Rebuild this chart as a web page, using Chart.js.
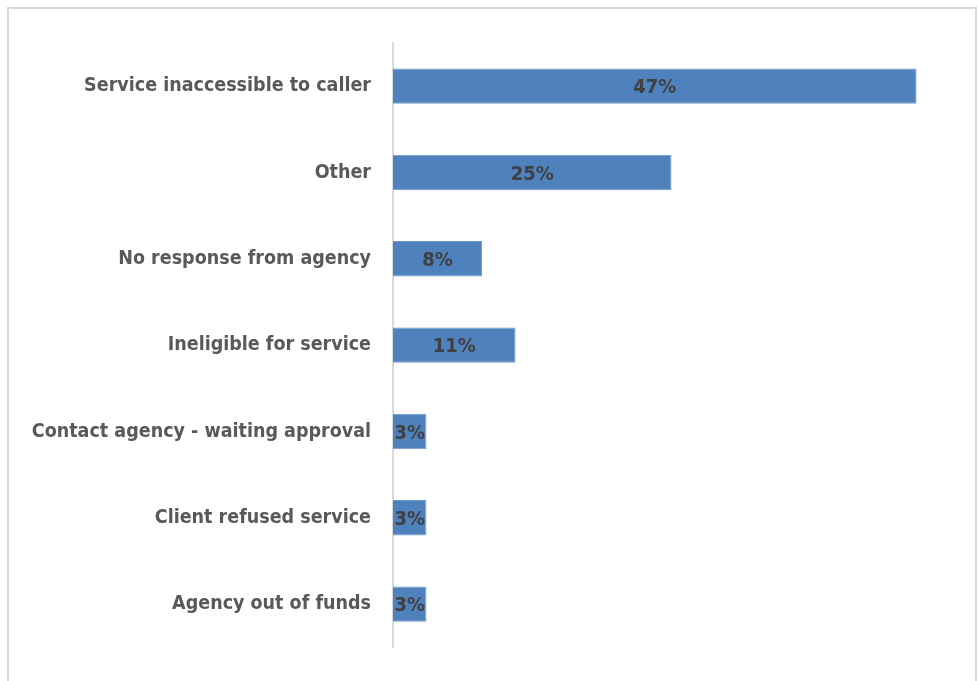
<!DOCTYPE html>
<html>
<head>
<meta charset="utf-8">
<script src="https://cdn.jsdelivr.net/npm/chart.js@4/dist/chart.umd.min.js"></script>
<style>
  html, body { margin: 0; padding: 0; background: #fff; overflow: hidden; }
  #wrap { position: relative; width: 978px; height: 681px; }
  #frame {
    position: absolute; left: 7px; top: 7px; width: 970px; height: 720px;
    border: 2px solid #d9d9d9; box-sizing: border-box;
  }
  canvas { position: absolute; left: 0; top: 0; }
</style>
</head>
<body>
<div id="wrap">
  <div id="frame"></div>
  <canvas id="reasons-chart" width="978" height="681"></canvas>
</div>
<script>
/* Reasons for unmet referrals — horizontal bars */

const REASONS = [
    "Service inaccessible to caller",
    "Other",
    "No response from agency",
    "Ineligible for service",
    "Contact agency - waiting approval",
    "Client refused service",
    "Agency out of funds",
];
const SHARES = [47, 25, 8, 11, 3, 3, 3];

const LABEL_FONT = "'Liberation Sans Narrow', 'DejaVu Sans Condensed', sans-serif";

/* value labels drawn in the middle of each bar */
const barValueLabels = {
    id: "barValueLabels",
    afterDatasetsDraw(chart) {
        const { ctx } = chart;
        const meta = chart.getDatasetMeta(0);
        ctx.save();
        ctx.font = `bold 20px ${LABEL_FONT}`;
        ctx.fillStyle = "#404040";
        ctx.textAlign = "center";
        ctx.textBaseline = "middle";
        meta.data.forEach((bar, i) => {
            const cx = (bar.x + bar.base) / 2;
            ctx.fillText(`${SHARES[i]}%`, cx, bar.y + 2);
        });
        ctx.restore();
    },
};

new Chart(document.getElementById("reasons-chart"), {
    type: "bar",
    data: {
        labels: REASONS,
        datasets: [{
            data: SHARES,
            backgroundColor: "#4f81bd",
            borderColor: "#6f97cb",
            borderWidth: 1,
            barPercentage: 0.41,
            categoryPercentage: 1,
        }],
    },
    options: {
        responsive: false,
        animation: false,
        indexAxis: "y",
        layout: { padding: { top: 43, bottom: 31, left: 0, right: 28 } },
        scales: {
            x: { display: false, min: 0, max: 50 },
            y: {
                grid: { display: false, drawTicks: false },
                border: { display: true, color: "#d9d9d9", width: 2 },
                ticks: {
                    padding: 22,
                    color: "#595959",
                    font: { family: LABEL_FONT, size: 19.5, weight: "bold" },
                },
                afterFit: (scale) => { scale.width = 393; },
            },
        },
        plugins: {
            legend: { display: false },
            tooltip: { enabled: false },
        },
    },
    plugins: [barValueLabels],
});
</script>
</body>
</html>
